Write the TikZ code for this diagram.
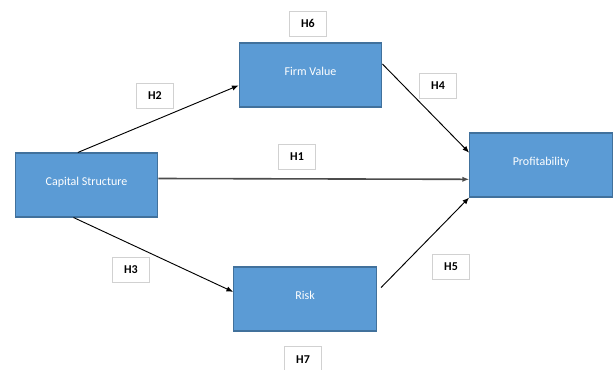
\documentclass[tikz,border=0pt]{standalone}
\usepackage{fontspec}
\setmainfont{Carlito}
\usepackage{tikz}
\usetikzlibrary{positioning, arrows.meta}
\usetikzlibrary{calc}
\definecolor{boxblue}{HTML}{5B9BD5}
\definecolor{boxedge}{HTML}{41719C}

\begin{document}
\begin{tikzpicture}[x=0.75pt, y=-0.75pt,
	var/.style={draw=boxedge, fill=boxblue, line width=0.8pt, minimum width=107pt, minimum height=48pt, text=white, font=\fontsize{9}{11}\selectfont, text height=0.7em, text depth=0.7em},
	hyp/.style={draw=black!18, fill=white, minimum width=28pt, minimum height=19pt, inner sep=0pt, font=\fontsize{9}{11}\selectfont\bfseries},
	link/.style={-{Latex[length=5pt, width=4pt]}, line width=0.7pt}]
	\useasboundingbox (0,0) rectangle (613,369);
	
	\node[var] (cs) at (86.5,185) {Capital Structure};
	\node[var] (fv) at (310.5,75) {Firm Value};
	\node[var] (pf) at (541,165) {Profitability};
	\node[var] (rk) at (305,299) {Risk};
	
	% hypotheses
	\node[hyp, above=4.5pt of fv, xshift=-2pt] (h6) {H6};
	\node[hyp, below=11pt of rk, xshift=-1.5pt] (h7) {H7};
	\node[hyp] (h2) at (155,96) {H2};
	\node[hyp] (h1) at (297,157) {H1};
	\node[hyp] (h4) at (438,86) {H4};
	\node[hyp] (h3) at (131,270) {H3};
	\node[hyp] (h5) at (451,267) {H5};
	
	\draw[link] ($(cs.north west)!0.44!(cs.north east)$) -- ($(fv.north west)!0.66!(fv.south west)$);
	\draw[link, line width=1.2pt, draw=black!70] ($(cs.north east)!0.4!(cs.south east)$) -- ($(pf.north west)!0.72!(pf.south west)$);
	\draw[link] ($(fv.north east)!0.33!(fv.south east)$) -- ($(pf.north west)!0.31!(pf.south west)$);
	\draw[link] ($(cs.south west)!0.41!(cs.south east)$) -- ($(rk.north west)!0.39!(rk.south west)$);
	\draw[link, shorten <=4.5pt] ($(rk.north east)!0.39!(rk.south east)$) -- (pf.south west);
\end{tikzpicture}
\end{document}
